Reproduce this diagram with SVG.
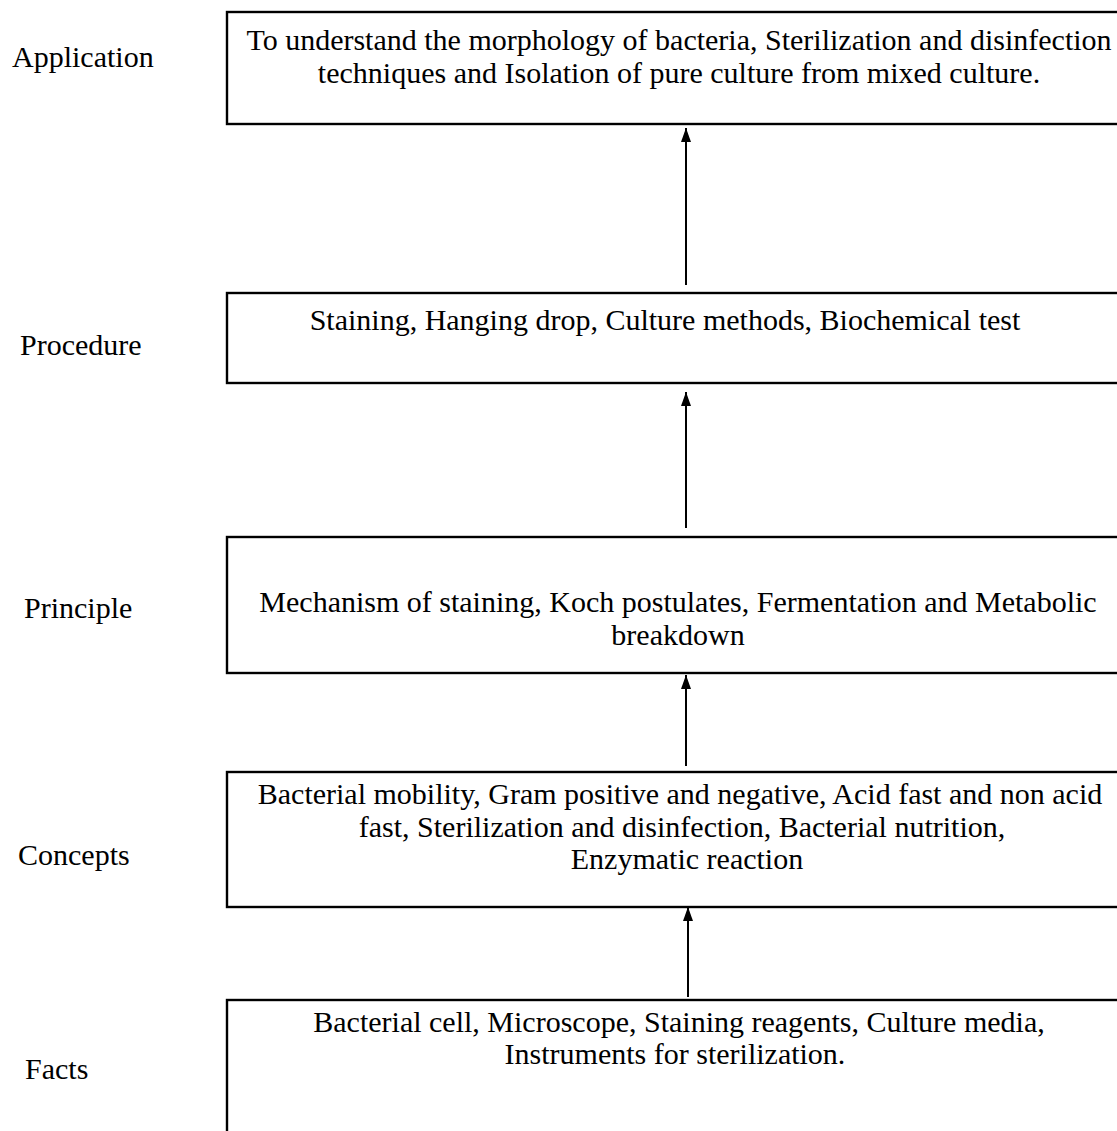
<svg xmlns="http://www.w3.org/2000/svg" width="1117" height="1131" viewBox="0 0 1117 1131">
  <style>
    .box { fill: #ffffff; stroke: #000000; stroke-width: 2.4; }
    text { font-family: 'Liberation Serif', 'Times New Roman', Times, serif; font-size: 30px; fill: #000000; }
    .mid { text-anchor: middle; }
    .edge { stroke: #000000; stroke-width: 2; fill: none; }
  </style>
  <defs>
    <marker id="arrow" viewBox="0 0 14 10" refX="14" refY="5" markerWidth="14" markerHeight="10" markerUnits="userSpaceOnUse" orient="auto">
      <path d="M0,0 L14,5 L0,10 Z" fill="#000000"/>
    </marker>
  </defs>
  <rect width="1117" height="1131" fill="#ffffff"/>

  <!-- level labels -->
  <g id="labels">
    <text x="12" y="67">Application</text>
    <text x="20" y="355">Procedure</text>
    <text x="24" y="618">Principle</text>
    <text x="18" y="865">Concepts</text>
    <text x="25" y="1079">Facts</text>
  </g>

  <g id="node-application">
    <rect class="box" x="227" y="12" width="920" height="112"/>
    <text class="mid" x="679" y="50">To understand the morphology of bacteria, Sterilization and disinfection</text>
    <text class="mid" x="679" y="83">techniques and Isolation of pure culture from mixed culture.</text>
  </g>

  <g id="node-procedure">
    <rect class="box" x="227" y="293" width="920" height="90"/>
    <text class="mid" x="665" y="330">Staining, Hanging drop, Culture methods, Biochemical test</text>
  </g>

  <g id="node-principle">
    <rect class="box" x="227" y="537" width="920" height="136"/>
    <text class="mid" x="678" y="612">Mechanism of staining, Koch postulates, Fermentation and Metabolic</text>
    <text class="mid" x="678" y="645">breakdown</text>
  </g>

  <g id="node-concepts">
    <rect class="box" x="227" y="772" width="920" height="135"/>
    <text class="mid" x="680" y="804">Bacterial mobility, Gram positive and negative, Acid fast and non acid</text>
    <text class="mid" x="682" y="837">fast, Sterilization and disinfection, Bacterial nutrition,</text>
    <text class="mid" x="687" y="869">Enzymatic reaction</text>
  </g>

  <g id="node-facts">
    <rect class="box" x="227" y="1000" width="920" height="160"/>
    <text class="mid" x="679" y="1032">Bacterial cell, Microscope, Staining reagents, Culture media,</text>
    <text class="mid" x="675" y="1064">Instruments for sterilization.</text>
  </g>

  <!-- upward connectors between levels -->
  <g id="connectors">
    <line class="edge" marker-end="url(#arrow)" x1="686" y1="285" x2="686" y2="128"/>
    <line class="edge" marker-end="url(#arrow)" x1="686" y1="528" x2="686" y2="392"/>
    <line class="edge" marker-end="url(#arrow)" x1="686" y1="766" x2="686" y2="675"/>
    <line class="edge" marker-end="url(#arrow)" x1="688" y1="997" x2="688" y2="907"/>
  </g>
</svg>
